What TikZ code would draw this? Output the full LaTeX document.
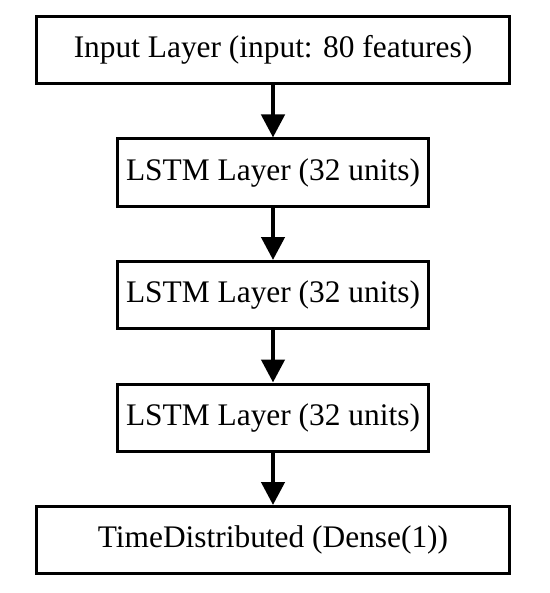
\documentclass[tikz,border=0pt]{standalone}
\usepackage{fontspec}
\setmainfont{Liberation Serif}
\usetikzlibrary{arrows.meta, positioning}

\begin{document}
\begin{tikzpicture}[
  layerbox/.style={rectangle, draw=black, fill=white, line width=1.5pt,
                   minimum height=33.5pt, inner sep=0pt, font=\fontsize{15.7}{18}\selectfont},
  widebox/.style={layerbox, minimum width=236.5pt},
  narrowbox/.style={layerbox, minimum width=155.5pt},
  flow/.style={-{Triangle[width=11.5pt, length=11.5pt]}, line width=2.25pt},
  node distance=26.25pt
]
\useasboundingbox (0,0) rectangle (275pt,-296.5pt);

% ── Layers ──
\node[widebox] (input) at (136.5pt,-25pt) {Input Layer (input: 80 features)};
\node[narrowbox, below=of input] (lstma) {LSTM Layer (32 units)};
\node[narrowbox, below=of lstma] (lstmb) {LSTM Layer (32 units)};
\node[narrowbox, below=of lstmb] (lstmc) {LSTM Layer (32 units)};
\node[widebox, below=of lstmc] (dense) {TimeDistributed (Dense(1))};

% ── Connections ──
\draw[flow] (input) -- (lstma);
\draw[flow] (lstma) -- (lstmb);
\draw[flow] (lstmb) -- (lstmc);
\draw[flow] (lstmc) -- (dense);

\end{tikzpicture}
\end{document}
